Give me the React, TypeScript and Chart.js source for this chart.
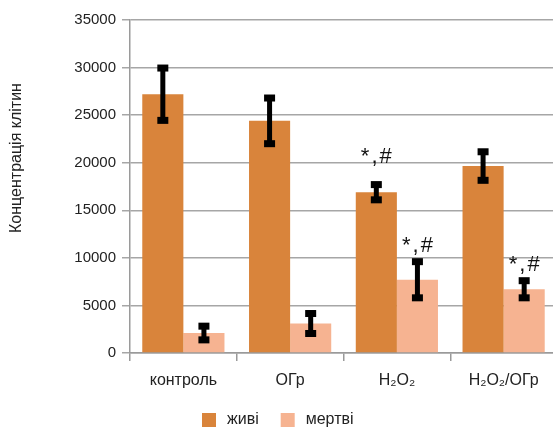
import React, { useEffect, useRef } from "react";
import Chart from "chart.js/auto";

const categories = ["контроль", "ОГр", "H₂O₂", "H₂O₂/ОГр"];
const aliveValues = [27200, 24400, 16900, 19650];
const aliveErrors = [2750, 2400, 800, 1500];
const deadValues = [2100, 3100, 7700, 6700];
const deadErrors = [720, 1050, 1900, 900];
const aliveMarks = ["", "", "*,#", ""];
const deadMarks = ["", "", "*,#", "*,#"];
const seriesNames = ["живі", "мертві"];
const yAxisTitle = "Концентрація клітин";
const yMin = 0;
const yMax = 35000;
const yStep = 5000;

const ALIVE_COLOR = "#D9843B";
const DEAD_COLOR = "#F6B391";
const FONT = "'Liberation Sans', Arial, sans-serif";

export default function App() {
  const ref = useRef<HTMLCanvasElement | null>(null);

  useEffect(() => {
    if (!ref.current) return;
    const errs = [aliveErrors, deadErrors];
    const marks = [aliveMarks, deadMarks];
    const markGap = [22, 10];
    const colors = [ALIVE_COLOR, DEAD_COLOR];

    const overlay = {
      id: "overlay",
      afterDatasetsDraw(chart: any) {
        const ctx = chart.ctx;
        const y = chart.scales.y;
        ctx.save();
        chart.data.datasets.forEach((ds: any, di: number) => {
          const meta = chart.getDatasetMeta(di);
          meta.data.forEach((el: any, i: number) => {
            const v = ds.data[i];
            const e = errs[di][i];
            const x = el.x;
            const yt = y.getPixelForValue(v + e);
            const yb = y.getPixelForValue(v - e);
            ctx.fillStyle = "#000";
            ctx.fillRect(x - 2.5, yt, 5, yb - yt);
            ctx.fillRect(x - 5.5, yt - 3.5, 11, 7);
            ctx.fillRect(x - 5.5, yb - 3.5, 11, 7);
            const m = marks[di][i];
            if (m) {
              ctx.font = `22px ${FONT}`;
              try { ctx.letterSpacing = "2px"; } catch (err) {}
              ctx.textAlign = "center";
              ctx.textBaseline = "alphabetic";
              ctx.fillStyle = "#111";
              ctx.fillText(m, x + 1, yt - 3.5 - markGap[di] + 4);
              try { ctx.letterSpacing = "0px"; } catch (err) {}
            }
          });
        });
        // y axis title
        ctx.save();
        ctx.font = `16px ${FONT}`;
        ctx.fillStyle = "#222";
        ctx.textAlign = "center";
        ctx.textBaseline = "middle";
        ctx.translate(17, 158);
        ctx.rotate(-Math.PI / 2);
        ctx.fillText(yAxisTitle, 0, 0);
        ctx.restore();
        // legend
        ctx.font = `16px ${FONT}`;
        ctx.textBaseline = "middle";
        ctx.textAlign = "left";
        const ly = 420;
        let lx = 202;
        seriesNames.forEach((name, i) => {
          ctx.fillStyle = colors[i];
          ctx.fillRect(lx, ly - 7, 14, 14);
          ctx.fillStyle = "#222";
          ctx.fillText(name, lx + 25, ly);
          lx += 25 + ctx.measureText(name).width + 22;
        });
        ctx.restore();
      },
    };

    const chart = new Chart(ref.current, {
      type: "bar",
      data: {
        labels: categories,
        datasets: [
          {
            label: seriesNames[0],
            data: aliveValues,
            backgroundColor: ALIVE_COLOR,
            barPercentage: 1,
            categoryPercentage: 0.77,
          },
          {
            label: seriesNames[1],
            data: deadValues,
            backgroundColor: DEAD_COLOR,
            barPercentage: 1,
            categoryPercentage: 0.77,
          },
        ],
      },
      options: {
        animation: false,
        responsive: false,
        maintainAspectRatio: false,
        layout: { padding: { top: 20, right: 3, left: 0, bottom: 0 } },
        plugins: {
          legend: { display: false },
          tooltip: { enabled: false },
          title: { display: false },
        },
        scales: {
          x: {
            grid: {
              display: true,
              drawOnChartArea: false,
              drawTicks: true,
              offset: true,
              tickLength: 8,
              color: "#9a9a9a",
              lineWidth: 1.5,
            },
            border: { display: true, color: "#9a9a9a", width: 1.5 },
            ticks: {
              color: "#222",
              font: { family: FONT, size: 16 },
              padding: 10,
              maxRotation: 0,
              autoSkip: false,
            },
            afterFit(scale: any) {
              scale.height = 77;
            },
          },
          y: {
            min: yMin,
            max: yMax,
            grid: {
              color: "#a6a6a6",
              lineWidth: 1.5,
              drawTicks: true,
              tickLength: 8,
            },
            border: { display: true, color: "#9a9a9a", width: 1.5 },
            ticks: {
              stepSize: yStep,
              color: "#222",
              font: { family: FONT, size: 15 },
              padding: 6,
              callback: (v: any) => String(v),
            },
            title: { display: false },
            afterFit(scale: any) {
              scale.width = 130;
            },
          },
        },
      },
      plugins: [overlay],
    });
    return () => chart.destroy();
  }, []);

  return (
    <div
      style={{
        position: "absolute",
        left: 0,
        top: 0,
        width: 553,
        height: 430,
        overflow: "hidden",
        background: "#fff",
      }}
    >
      <canvas ref={ref} width={560} height={430} style={{ display: "block" }} />
    </div>
  );
}
